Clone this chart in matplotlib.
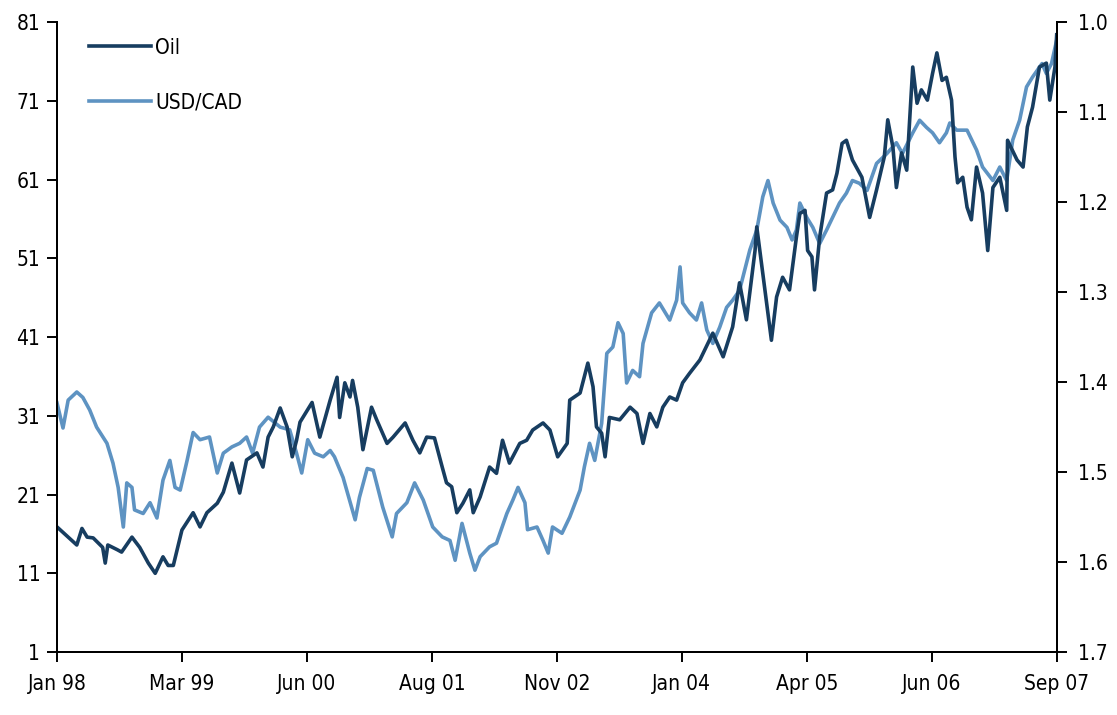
import numpy as np
import matplotlib.pyplot as plt

# months since Jan 1998
oil_month = [0, 0.7, 2.3, 2.9, 3.5, 4.2, 5.3, 5.6, 5.9, 7.0, 7.5, 8.7, 9.6, 10.6, 11.4,
             12.3, 12.9, 13.5, 14.5, 15.8, 16.6, 17.4, 18.6, 19.3, 20.3, 21.2, 22.0,
             23.2, 23.9, 24.5, 25.1, 25.9, 26.7, 27.3, 27.8, 28.2, 29.6, 30.5, 31.7,
             32.5, 32.8, 33.4, 34.0, 34.3, 34.9, 35.5, 36.5, 37.1, 38.3, 39.0, 40.4,
             41.3, 42.1, 42.9, 43.8, 44.7, 45.2, 45.8, 46.4, 47.1, 47.9, 48.3, 49.1,
             50.2, 51.0, 51.7, 52.5, 53.7, 54.5, 55.2, 56.4, 57.2, 58.1, 59.2, 59.5,
             60.7, 61.6, 62.2, 62.6, 63.2, 63.6, 64.1, 65.3, 66.5, 67.3, 68.0, 68.8,
             69.6, 70.3, 71.1, 71.9, 72.6, 73.4, 74.6, 76.1, 77.3, 78.4, 79.2, 80.0,
             81.0, 81.2, 81.9, 82.9, 83.5, 84.2, 85.0, 85.8, 86.2, 86.8, 87.1, 87.6,
             87.9, 88.5, 89.3, 90.0, 90.5, 91.1, 91.6, 92.3, 93.4, 94.3, 95.1, 96.0,
             96.4, 97.0, 97.4, 98.0, 98.6, 99.3, 99.8, 100.3, 101.0, 101.6, 102.1,
             102.7, 103.2, 103.8, 104.2, 104.5, 105.1, 105.6, 106.1, 106.7, 107.4,
             108.0, 108.6, 109.4, 110.2, 110.3, 111.4, 112.1, 112.6, 113.2, 114.0,
             114.8, 115.2, 115.8, 116.0]
oil = [16.9, 16.2, 14.6, 16.7, 15.6, 15.5, 14.3, 12.3, 14.6, 14.0, 13.7, 15.6, 14.3, 12.3,
       11.0, 13.1, 12.0, 12.0, 16.5, 18.7, 16.9, 18.7, 19.9, 21.3, 25.0, 21.2, 25.4,
       26.3, 24.5, 28.3, 29.6, 32.0, 29.6, 25.8, 27.9, 30.2, 32.7, 28.3, 33.0, 35.9,
       30.8, 35.2, 33.4, 35.5, 32.1, 26.7, 32.1, 30.5, 27.5, 28.3, 30.1, 27.9, 26.3,
       28.3, 28.2, 24.5, 22.5, 22.0, 18.7, 19.9, 21.6, 18.7, 20.7, 24.5, 23.7, 27.9,
       25.0, 27.5, 27.9, 29.2, 30.1, 29.2, 25.8, 27.5, 33.0, 33.9, 37.7, 34.7, 29.6,
       28.8, 25.8, 30.8, 30.5, 32.1, 31.3, 27.5, 31.3, 29.6, 32.1, 33.4, 33.0, 35.2,
       36.4, 38.1, 41.5, 38.5, 42.3, 47.9, 43.2, 52.0, 55.0, 49.1, 40.6, 46.1, 48.6,
       47.0, 53.7, 56.7, 57.1, 52.0, 51.2, 47.0, 53.7, 59.3, 59.7, 61.8, 65.6, 66.0,
       63.5, 61.3, 56.2, 59.7, 63.9, 68.6, 65.1, 60.0, 64.4, 62.2, 75.3, 70.7, 72.4,
       71.1, 74.5, 77.1, 73.6, 74.0, 71.1, 63.9, 60.6, 61.3, 57.5, 55.9, 62.6, 59.3,
       52.0, 60.0, 61.3, 57.1, 66.0, 63.5, 62.6, 67.7, 70.2, 75.3, 75.8, 71.1, 75.3,
       79.4]

fx_month = [0, 0.7, 1.3, 2.3, 3.0, 3.8, 4.6, 5.8, 6.5, 7.1, 7.7, 8.1, 8.7, 9.0, 10.0,
            10.8, 11.6, 12.3, 13.1, 13.7, 14.3, 15.1, 15.8, 16.6, 17.7, 18.6, 19.3,
            20.3, 21.2, 22.0, 22.7, 23.5, 24.5, 25.9, 27.0, 27.8, 28.4, 29.1, 29.9,
            30.9, 31.7, 32.2, 33.2, 34.6, 35.1, 36.0, 36.7, 37.8, 38.9, 39.4, 40.6,
            41.5, 42.5, 43.6, 44.7, 45.6, 46.2, 47.0, 47.9, 48.5, 49.1, 50.2, 51.0,
            52.2, 52.9, 53.5, 54.3, 54.6, 55.7, 56.4, 57.0, 57.5, 58.6, 59.5, 60.7,
            61.2, 61.8, 62.4, 63.2, 63.8, 64.5, 65.1, 65.7, 66.1, 66.8, 67.6, 68.0,
            69.0, 69.9, 71.1, 71.9, 72.3, 72.6, 73.4, 74.2, 74.8, 75.4, 76.1, 76.9,
            77.7, 78.4, 79.2, 80.4, 81.2, 81.9, 82.5, 83.1, 83.9, 84.7, 85.3, 85.8,
            86.2, 87.0, 87.7, 88.5, 89.3, 90.0, 90.8, 91.6, 92.3, 93.1, 94.0, 95.1,
            96.3, 97.4, 98.1, 99.3, 100.1, 100.9, 101.6, 102.4, 103.2, 103.6, 104.4,
            105.6, 106.7, 107.4, 108.6, 109.4, 110.2, 110.9, 111.7, 112.5, 113.2,
            114.3, 114.8, 115.4, 116.0]
usdcad = [1.423, 1.451, 1.420, 1.411, 1.417, 1.431, 1.450, 1.468, 1.490, 1.517, 1.561,
          1.512, 1.517, 1.542, 1.546, 1.534, 1.551, 1.509, 1.487, 1.517, 1.520, 1.487,
          1.456, 1.464, 1.461, 1.501, 1.479, 1.472, 1.468, 1.461, 1.479, 1.450, 1.439,
          1.450, 1.453, 1.479, 1.501, 1.464, 1.479, 1.483, 1.476, 1.483, 1.506, 1.553,
          1.528, 1.496, 1.498, 1.539, 1.572, 1.546, 1.534, 1.512, 1.531, 1.561, 1.572,
          1.576, 1.598, 1.557, 1.590, 1.609, 1.594, 1.583, 1.579, 1.546, 1.531, 1.517,
          1.534, 1.564, 1.561, 1.576, 1.590, 1.561, 1.568, 1.550, 1.520, 1.494, 1.468,
          1.487, 1.446, 1.368, 1.361, 1.334, 1.346, 1.401, 1.387, 1.394, 1.357, 1.323,
          1.312, 1.331, 1.309, 1.272, 1.312, 1.323, 1.331, 1.312, 1.342, 1.357, 1.339,
          1.317, 1.309, 1.298, 1.253, 1.231, 1.194, 1.176, 1.201, 1.220, 1.228, 1.242,
          1.231, 1.201, 1.217, 1.228, 1.246, 1.231, 1.217, 1.201, 1.190, 1.176, 1.179,
          1.187, 1.157, 1.146, 1.134, 1.146, 1.123, 1.109, 1.117, 1.123, 1.134, 1.123,
          1.112, 1.120, 1.120, 1.142, 1.161, 1.176, 1.161, 1.176, 1.131, 1.109, 1.072,
          1.061, 1.046, 1.057, 1.046, 1.020]

tick_labels = ["Jan 98", "Mar 99", "Jun 00", "Aug 01", "Nov 02",
               "Jan 04", "Apr 05", "Jun 06", "Sep 07"]
left_ticks = [1, 11, 21, 31, 41, 51, 61, 71, 81]
right_ticks = [1.0, 1.1, 1.2, 1.3, 1.4, 1.5, 1.6, 1.7]

oil_col = '#173d60'
fx_col = '#5e93c2'

plt.rcParams['font.family'] = ['DejaVu Sans']
plt.rcParams['font.stretch'] = 'condensed'
plt.rcParams['font.size'] = 15

fig = plt.figure(figsize=(11.17, 7.15), dpi=100)
ax = fig.add_axes([0.051, 0.088, 0.895, 0.881])
ax2 = ax.twinx()

l2, = ax2.plot(fx_month, usdcad, color=fx_col, lw=2.6, label='USD/CAD')
l1, = ax.plot(oil_month, oil, color=oil_col, lw=2.6, label='Oil')
ax.set_zorder(ax2.get_zorder() + 1)
ax.patch.set_visible(False)

ax.set_xlim(0, 116)
ax.set_ylim(1, 81)
ax.set_yticks(left_ticks)
ax.set_xticks(np.linspace(0, 116, 9))
ax.set_xticklabels(tick_labels)
ax2.set_ylim(1.7, 1.0)
ax2.set_yticks(right_ticks)
ax2.set_yticklabels(["%.1f" % t for t in right_ticks])

for a in (ax, ax2):
    a.spines['top'].set_visible(False)
    for s in a.spines.values():
        s.set_linewidth(1.4)
    a.tick_params(direction='out', length=7, width=1.4, labelsize=15)
ax.tick_params(axis='x', pad=9)
ax.tick_params(axis='y', pad=5)
ax2.tick_params(axis='y', pad=8)

ax.legend([l1, l2], ['Oil', 'USD/CAD'], loc='upper left', bbox_to_anchor=(0.013, 1.005),
          frameon=False, handlelength=3.0, handletextpad=0.2, labelspacing=1.65,
          fontsize=15)

fig.savefig('out.png', dpi=100)
